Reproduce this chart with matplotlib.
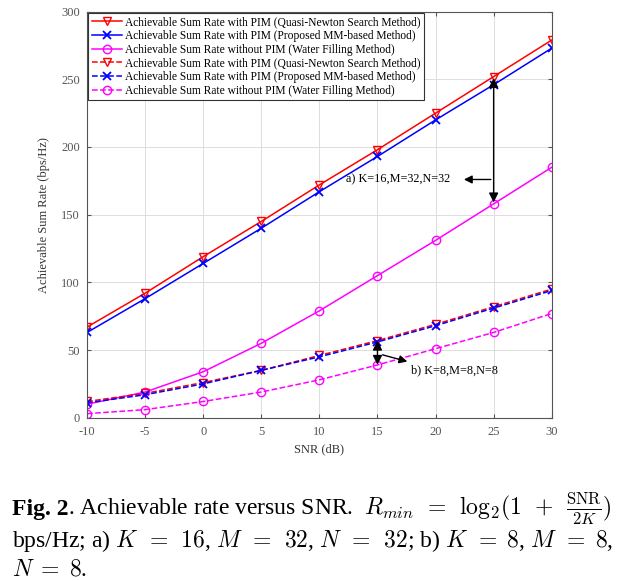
import numpy as np
import matplotlib.pyplot as plt

plt.rcParams['font.family'] = ['Liberation Serif', 'DejaVu Serif']
plt.rcParams['mathtext.fontset'] = 'cm'
plt.rcParams['axes.unicode_minus'] = False

# data
snr = [-10, -5, 0, 5, 10, 15, 20, 25, 30]
qn_a = [67, 92, 119, 145, 172, 198, 225, 252, 279]
mm_a = [63, 88, 114, 140, 167, 193, 220, 246, 273]
wf_a = [10, 19, 34, 55, 79, 105, 131, 158, 185]
qn_b = [12, 18, 26, 35, 46, 57, 69, 82, 95]
mm_b = [11, 17, 25, 35, 45, 56, 68, 81, 94]
wf_b = [3, 6, 12, 19, 28, 39, 51, 63, 77]

labels = ['Achievable Sum Rate with PIM (Quasi-Newton Search Method)',
          'Achievable Sum Rate with PIM (Proposed MM-based Method)',
          'Achievable Sum Rate without PIM (Water Filling Method)']

fig = plt.figure(figsize=(6.22, 5.81), dpi=100)
ax = fig.add_axes([0.14, 0.281, 0.747, 0.699])

ax.plot(snr, qn_a, '-', color='red', marker='v', mfc='none', ms=6, lw=1.1, label=labels[0])
ax.plot(snr, mm_a, '-', color='blue', marker='x', ms=6, mew=1.3, lw=1.1, label=labels[1])
ax.plot(snr, wf_a, '-', color='magenta', marker='o', mfc='none', ms=6, lw=1.1, label=labels[2])
ax.plot(snr, qn_b, '--', color='red', marker='v', mfc='none', ms=6, lw=1.1, label=labels[0])
ax.plot(snr, mm_b, '--', color='blue', marker='x', ms=6, mew=1.3, lw=1.1, label=labels[1])
ax.plot(snr, wf_b, '--', color='magenta', marker='o', mfc='none', ms=6, lw=1.1, label=labels[2])

ax.set_xlim(-10, 30)
ax.set_ylim(0, 300)
ax.set_xticks(range(-10, 31, 5))
ax.set_yticks(range(0, 301, 50))
ax.grid(True, color='#dddddd', lw=0.7)
ax.set_axisbelow(True)
ax.tick_params(direction='in', labelsize=9, colors='#555555', top=True, right=True, length=3)
ax.tick_params(axis='x', pad=6)
ax.tick_params(axis='y', pad=5)
for s in ax.spines.values():
    s.set_color('#555555')
ax.set_xlabel('SNR (dB)', fontsize=9, color='#333333', labelpad=4)
ax.set_ylabel('Achievable Sum Rate (bps/Hz)', fontsize=9, color='#333333', labelpad=8)

leg = ax.legend(loc='upper left', fontsize=8.3, fancybox=False, framealpha=1,
                edgecolor='#333333', borderpad=0.3, labelspacing=0.15,
                handlelength=2.6, handletextpad=0.3, borderaxespad=0.1)
leg.get_frame().set_linewidth(0.8)

# annotations
arr = dict(arrowstyle='<|-|>', color='black', lw=1, mutation_scale=14)
ax.annotate('', xy=(25, 253), xytext=(25, 157), arrowprops=arr)
ax.annotate('', xy=(22.2, 176), xytext=(25, 176),
            arrowprops=dict(arrowstyle='-|>', color='black', lw=1, mutation_scale=12))
ax.text(12.3, 176, 'a) K=16,M=32,N=32', fontsize=8.8, va='center')

ax.annotate('', xy=(15, 59), xytext=(15, 37), arrowprops=arr)
ax.annotate('', xy=(17.8, 41), xytext=(15.2, 47),
            arrowprops=dict(arrowstyle='-|>', color='black', lw=1, mutation_scale=12))
ax.text(17.9, 35, 'b) K=8,M=8,N=8', fontsize=8.8, va='center')

# caption
fs = 17
x0 = 0.019
t1 = fig.text(x0, 0.1136, 'Fig. 2', fontsize=fs, weight='bold', va='baseline')
r = fig.canvas.get_renderer()
bb = t1.get_window_extent(renderer=r)
x1 = fig.transFigure.inverted().transform((bb.x1, bb.y0))[0]
fig.text(x1, 0.1136, r'. Achievable rate versus SNR.  '
         r'$R_{min}\;\,=\;\,\mathrm{log}_2(1\;\,+\;\,\frac{\mathrm{SNR}}{2K})$',
         fontsize=fs, va='baseline')
fig.text(x0, 0.0585, r'bps/Hz; a) $K\;\,=\;\,16$, $M\;\,=\;\,32$, $N\;\,=\;\,32$; '
         r'b) $K\;\,=\;8$, $M\;\,=\;8$,', fontsize=fs, va='baseline')
fig.text(x0, 0.0103, r'$N\;=\;8$.', fontsize=fs, va='baseline')

fig.savefig('out.png', dpi=100)
